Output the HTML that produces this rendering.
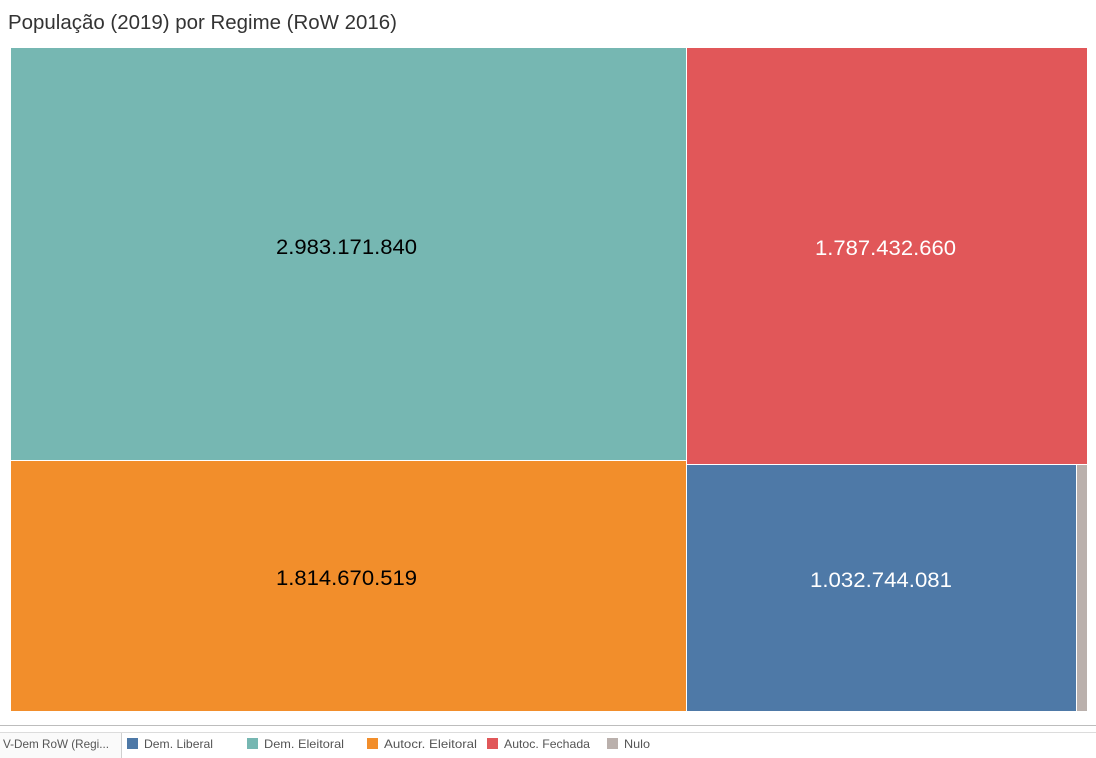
<!DOCTYPE html>
<html>
<head>
<meta charset="utf-8">
<style>
html,body{margin:0;padding:0;background:#fff;}
svg{display:block;}
text{font-family:"Liberation Sans", sans-serif;}
</style>
</head>
<body>
<svg width="1096" height="758" viewBox="0 0 1096 758" xmlns="http://www.w3.org/2000/svg">
  <rect x="0" y="0" width="1096" height="758" fill="#ffffff"/>
  <text x="8" y="29" font-size="20" fill="#333333" textLength="389" lengthAdjust="spacingAndGlyphs">População (2019) por Regime (RoW 2016)</text>

  <!-- treemap -->
  <rect x="11" y="48" width="675" height="412" fill="#76b7b2"/>
  <rect x="11" y="461" width="675" height="250" fill="#f28e2b"/>
  <rect x="687" y="48" width="400" height="416" fill="#e15759"/>
  <rect x="687" y="465" width="389" height="246" fill="#4e79a7"/>
  <rect x="1077" y="465" width="10" height="246" fill="#bab0ac"/>

  <text x="276" y="254" font-size="21" fill="#000000" textLength="141" lengthAdjust="spacingAndGlyphs">2.983.171.840</text>
  <text x="815" y="255" font-size="21" fill="#ffffff" textLength="141" lengthAdjust="spacingAndGlyphs">1.787.432.660</text>
  <text x="276" y="585" font-size="21" fill="#000000" textLength="141" lengthAdjust="spacingAndGlyphs">1.814.670.519</text>
  <text x="810" y="587" font-size="21" fill="#ffffff" textLength="142" lengthAdjust="spacingAndGlyphs">1.032.744.081</text>

  <!-- separators -->
  <rect x="0" y="725" width="1096" height="1" fill="#bdbdbd"/>
  <rect x="0" y="732" width="1096" height="1" fill="#dcdcdc"/>
  <rect x="0" y="733" width="121" height="25" fill="#fafafa"/>
  <rect x="121" y="733" width="1" height="25" fill="#d0d0d0"/>

  <!-- legend -->
  <text x="3" y="748" font-size="12" fill="#555555" textLength="106" lengthAdjust="spacingAndGlyphs">V-Dem RoW (Regi...</text>

  <rect x="127" y="738" width="11" height="11" fill="#4e79a7"/>
  <text x="144" y="748" font-size="12" fill="#555555" textLength="69" lengthAdjust="spacingAndGlyphs">Dem. Liberal</text>

  <rect x="247" y="738" width="11" height="11" fill="#76b7b2"/>
  <text x="264" y="748" font-size="12" fill="#555555" textLength="80" lengthAdjust="spacingAndGlyphs">Dem. Eleitoral</text>

  <rect x="367" y="738" width="11" height="11" fill="#f28e2b"/>
  <text x="384" y="748" font-size="12" fill="#555555" textLength="93" lengthAdjust="spacingAndGlyphs">Autocr. Eleitoral</text>

  <rect x="487" y="738" width="11" height="11" fill="#e15759"/>
  <text x="504" y="748" font-size="12" fill="#555555" textLength="86" lengthAdjust="spacingAndGlyphs">Autoc. Fechada</text>

  <rect x="607" y="738" width="11" height="11" fill="#bab0ac"/>
  <text x="624" y="748" font-size="12" fill="#555555" textLength="26" lengthAdjust="spacingAndGlyphs">Nulo</text>
</svg>
</body>
</html>
